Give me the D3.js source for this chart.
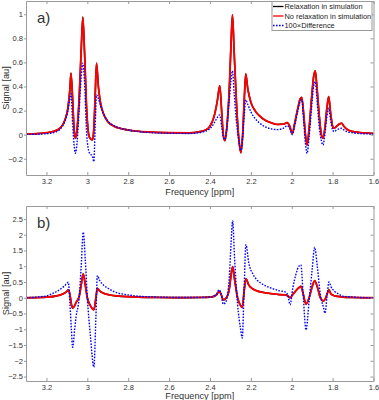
<!DOCTYPE html>
<html>
<head>
<meta charset="utf-8">
<script src="https://cdnjs.cloudflare.com/ajax/libs/d3/7.8.5/d3.min.js"></script>
<style>
  body { margin: 0; background: #fff; }
  svg { display: block; font-family: "Liberation Sans", Arial, sans-serif; }
</style>
</head>
<body>
<svg id="chart" width="379" height="400"></svg>
<script>
// frequency axis ticks (ppm)
const xTicks = [3.2, 3, 2.8, 2.6, 2.4, 2.2, 2, 1.8, 1.6];
const yTicksA = [-0.2, 0, 0.2, 0.4, 0.6, 0.8, 1];
const yTicksB = [-2.5, -2, -1.5, -1, -0.5, 0, 0.5, 1, 1.5, 2, 2.5];
const legendLabels = ["Relaxation in simulation", "No relaxation in simulation", "100\u00d7Difference"];

// panel a)
const ppmA = [3.30, 3.25, 3.20, 3.16, 3.13, 3.11, 3.095, 3.085, 3.08, 3.072, 3.065, 3.058, 3.05, 3.04, 3.03, 3.022,
  3.014, 3.003, 2.99, 2.975, 2.968, 2.962, 2.955, 2.946, 2.935, 2.92, 2.90, 2.87, 2.83, 2.78, 2.70, 2.60, 2.50,
  2.45, 2.42, 2.40, 2.38, 2.365, 2.352, 2.343, 2.335, 2.327, 2.318, 2.305, 2.297, 2.29, 2.282, 2.27, 2.258, 2.249,
  2.24, 2.232, 2.225, 2.215, 2.20, 2.18, 2.16, 2.13, 2.10, 2.07, 2.04, 2.022, 2.01, 1.997, 1.985, 1.97, 1.958,
  1.951, 1.942, 1.933, 1.925, 1.915, 1.903, 1.893, 1.885, 1.877, 1.865, 1.855, 1.847, 1.838, 1.828, 1.819, 1.81,
  1.80, 1.793, 1.78, 1.765, 1.756, 1.745, 1.73, 1.70, 1.65, 1.60];
const noRelaxA = [0.004, 0.008, 0.016, 0.03, 0.06, 0.12, 0.22, 0.38, 0.51, 0.30, 0.05, -0.03, 0.05, 0.30, 0.70, 0.975,
  0.70, 0.20, -0.02, -0.044, 0.05, 0.30, 0.593, 0.40, 0.26, 0.17, 0.108, 0.07, 0.048, 0.033, 0.022, 0.016, 0.015,
  0.025, 0.04, 0.07, 0.15, 0.27, 0.405, 0.20, 0.0, -0.05, 0.05, 0.40, 0.75, 0.994, 0.70, 0.25, -0.05, -0.15,
  0.0, 0.30, 0.504, 0.38, 0.27, 0.20, 0.16, 0.12, 0.098, 0.085, 0.088, 0.10, 0.07, 0.01, 0.10, 0.22, 0.30,
  0.31, 0.18, 0.0, -0.086, 0.05, 0.30, 0.48, 0.53, 0.40, 0.15, 0.0, -0.03, 0.05, 0.22, 0.316, 0.18,
  0.07, 0.053, 0.07, 0.09, 0.095, 0.07, 0.045, 0.025, 0.015, 0.01];
const relaxA = noRelaxA.slice();
const diffA = [0.002, 0.004, 0.008, 0.02, 0.05, 0.11, 0.20, 0.30, 0.34, 0.10, -0.08, -0.155, -0.06, 0.20, 0.48, 0.593,
  0.45, 0.0, -0.15, -0.18, -0.224, 0.05, 0.33, 0.30, 0.24, 0.17, 0.115, 0.075, 0.05, 0.033, 0.018, 0.012, 0.01,
  0.018, 0.03, 0.05, 0.095, 0.14, 0.164, 0.07, -0.02, -0.04, 0.05, 0.30, 0.45, 0.53, 0.35, 0.10, -0.06, -0.13,
  -0.02, 0.17, 0.29, 0.25, 0.19, 0.135, 0.10, 0.065, 0.048, 0.042, 0.055, 0.075, 0.05, 0.0, 0.08, 0.20, 0.28,
  0.29, 0.12, -0.07, -0.155, -0.02, 0.22, 0.40, 0.44, 0.30, 0.06, -0.05, -0.086, 0.0, 0.15, 0.22, 0.12,
  0.04, 0.025, 0.04, 0.05, 0.053, 0.04, 0.025, 0.015, 0.008, 0.005];

// panel b)
const ppmB = [3.30, 3.25, 3.20, 3.15, 3.12, 3.10, 3.093, 3.085, 3.078, 3.072, 3.062, 3.055, 3.04, 3.03, 3.02, 3.01,
  3.0, 2.985, 2.968, 2.958, 2.951, 2.94, 2.92, 2.89, 2.86, 2.82, 2.75, 2.65, 2.55, 2.45, 2.40, 2.37, 2.355, 2.345,
  2.335, 2.32, 2.305, 2.297, 2.289, 2.28, 2.265, 2.25, 2.242, 2.233, 2.224, 2.21, 2.19, 2.171, 2.15, 2.122, 2.09,
  2.06, 2.03, 2.02, 2.008, 1.995, 1.98, 1.965, 1.955, 1.945, 1.93, 1.915, 1.90, 1.888, 1.875, 1.86, 1.845, 1.837,
  1.828, 1.818, 1.808, 1.79, 1.77, 1.75, 1.70, 1.60];
const noRelaxB = [0, 0.005, 0.02, 0.06, 0.12, 0.20, 0.25, 0.10, -0.20, -0.33, -0.25, -0.15, 0.04, 0.40, 0.76, 0.40,
  0.0, -0.25, -0.38, 0.0, 0.30, 0.22, 0.14, 0.09, 0.06, 0.04, 0.02, 0.01, 0.005, 0.01, 0.02, 0.08, 0.20, 0.10,
  -0.07, 0.0, 0.30, 0.70, 0.99, 0.60, 0.0, -0.25, -0.31, 0.20, 0.60, 0.40, 0.28, 0.22, 0.18, 0.15, 0.12,
  0.10, 0.09, 0.06, 0.0, 0.10, 0.22, 0.32, 0.36, 0.15, -0.20, 0.0, 0.35, 0.54, 0.35, 0.0, -0.10, -0.05,
  0.10, 0.25, 0.12, 0.06, 0.04, 0.02, 0.01, 0.0];
const relaxB = noRelaxB.slice();
const diffB = [0, 0.02, 0.06, 0.20, 0.33, 0.45, 0.49, -0.20, -1.0, -1.57, -1.0, -0.6, 0.0, 1.0, 2.08, 1.20,
  0.0, -1.2, -2.2, -0.6, 0.70, 0.55, 0.40, 0.27, 0.17, 0.11, 0.05, 0.02, 0.01, 0.01, 0.02, 0.10, 0.25, 0.10,
  -0.20, -0.10, 0.70, 1.70, 2.44, 1.30, -0.20, -1.0, -1.28, 0.30, 1.68, 1.10, 0.75, 0.57, 0.46, 0.36, 0.28,
  0.22, 0.18, 0.10, -0.22, 0.30, 0.73, 1.0, 1.04, 0.20, -1.02, -0.10, 0.90, 1.60, 1.0, 0.10, -0.30, -0.49,
  0.0, 0.50, 0.35, 0.20, 0.12, 0.05, 0.02, 0.0];

const svg = d3.select("#chart");
const left = 26, right = 373.5;
const x = d3.scaleLinear().domain([3.3, 1.6]).range([left, right]);
const axisColor = "#9a9a9a";
const textColor = "#333";

function drawPanel(cfg) {
  const y = d3.scaleLinear().domain(cfg.yDomain).range([cfg.bottom, cfg.top]);
  const g = svg.append("g");
  const clipId = "clip-" + cfg.label[0];
  svg.append("clipPath").attr("id", clipId)
    .append("rect").attr("x", left).attr("y", cfg.top)
    .attr("width", right - left).attr("height", cfg.bottom - cfg.top);

  // lines
  const line = d3.line().x(d => x(d[0])).y(d => y(d[1])).curve(d3.curveMonotoneX);
  const series = [
    { vals: cfg.relax, color: "#000", width: 1.6, dash: null },
    { vals: cfg.noRelax, color: "#ff0000", width: 1.8, dash: null },
    { vals: cfg.diff, color: "#0000ff", width: 1.4, dash: "1.6,1.4" }
  ];
  const lines = g.append("g").attr("clip-path", `url(#${clipId})`);
  series.forEach(s => {
    lines.append("path")
      .datum(cfg.ppm.map((p, i) => [p, s.vals[i]]))
      .attr("fill", "none")
      .attr("stroke", s.color)
      .attr("stroke-width", s.width)
      .attr("stroke-dasharray", s.dash)
      .attr("d", line);
  });

  // axes: bottom / left with labels, top / right mirrored ticks
  const xb = g.append("g").attr("transform", `translate(0,${cfg.bottom})`)
    .call(d3.axisBottom(x).tickValues(xTicks).tickSizeInner(-3).tickSizeOuter(0).tickPadding(3.5).tickFormat(d3.format("")));
  const xt = g.append("g").attr("transform", `translate(0,${cfg.top})`)
    .call(d3.axisTop(x).tickValues(xTicks).tickSizeInner(-3).tickSizeOuter(0).tickFormat(""));
  const yl = g.append("g").attr("transform", `translate(${left},0)`)
    .call(d3.axisLeft(y).tickValues(cfg.yTicks).tickSizeInner(2).tickSizeOuter(0).tickPadding(1).tickFormat(d3.format("")));
  const yr = g.append("g").attr("transform", `translate(${right},0)`)
    .call(d3.axisRight(y).tickValues(cfg.yTicks).tickSizeInner(-3).tickSizeOuter(0).tickFormat(""));
  [xb, xt, yl, yr].forEach(a => {
    a.select(".domain").attr("stroke", axisColor);
    a.selectAll(".tick line").attr("stroke", axisColor);
    a.selectAll("text").attr("fill", textColor).style("font-size", "7.5px")
      .style("font-family", "'Liberation Sans', Arial, sans-serif");
  });
  yl.selectAll("text").text(d => d < 0 ? "\u2212" + Math.abs(d) : d);

  // labels
  g.append("text")
    .attr("x", (left + right) / 2).attr("y", cfg.bottom + cfg.xlabelGap)
    .attr("text-anchor", "middle").attr("fill", textColor)
    .style("font-size", "9.2px").text("Frequency [ppm]");
  g.append("text")
    .attr("transform", `translate(8.5,${(cfg.top + cfg.bottom) / 2}) rotate(-90)`)
    .attr("text-anchor", "middle").attr("fill", textColor)
    .style("font-size", "9.2px").text("Signal [au]");
  g.append("text")
    .attr("x", 37).attr("y", cfg.top + 22)
    .attr("fill", textColor).style("font-size", "15px").text(cfg.label);
  return g;
}

const gA = drawPanel({ label: "a)", top: 1, bottom: 175, xlabelGap: 19.5, yDomain: [-0.335, 1.11], yTicks: yTicksA,
  ppm: ppmA, relax: relaxA, noRelax: noRelaxA, diff: diffA });
drawPanel({ label: "b)", top: 206, bottom: 381, xlabelGap: 17.5, yDomain: [-2.64, 2.91], yTicks: yTicksB,
  ppm: ppmB, relax: relaxB, noRelax: noRelaxB, diff: diffB });

// legend in panel a)
const lg = gA.append("g").attr("transform", "translate(272,1.5)");
lg.append("rect").attr("width", 100).attr("height", 29)
  .attr("fill", "#fff").attr("stroke", axisColor);
const legendStyles = [
  { color: "#000", dash: null },
  { color: "#ff0000", dash: null },
  { color: "#0000ff", dash: "1.6,1.4" }
];
legendLabels.forEach((t, i) => {
  const yy = 5 + i * 9.5;
  lg.append("line").attr("x1", 1).attr("x2", 11.5).attr("y1", yy).attr("y2", yy)
    .attr("stroke", legendStyles[i].color).attr("stroke-width", 1.3)
    .attr("stroke-dasharray", legendStyles[i].dash);
  lg.append("text").attr("x", 12.5).attr("y", yy + 2.7)
    .attr("fill", "#222").style("font-size", "7.4px").text(t);
});
</script>
</body>
</html>
